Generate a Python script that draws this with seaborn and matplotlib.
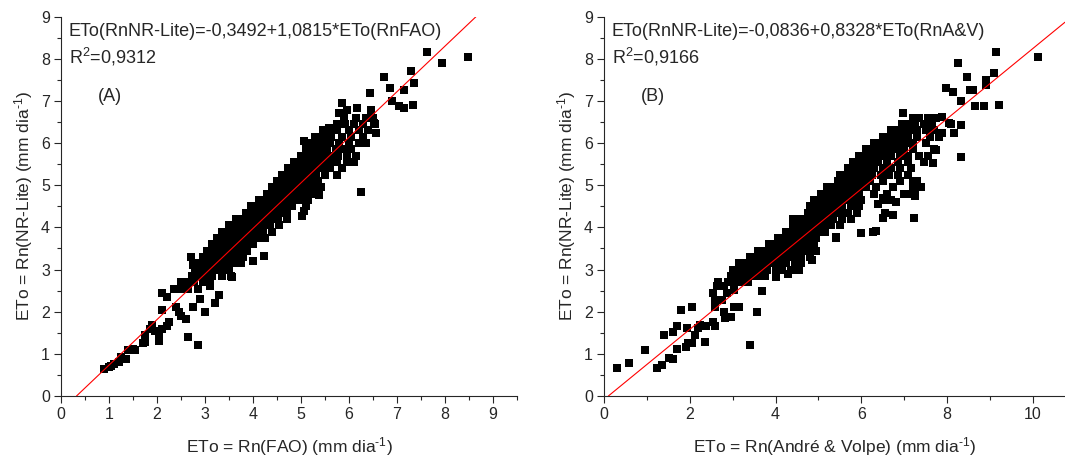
import matplotlib
matplotlib.use('Agg')
import matplotlib.pyplot as plt
from matplotlib.ticker import MultipleLocator
import seaborn as sns
import numpy as np

# --- dados (ETo em mm dia-1) ---

# painel (A): pontos isolados
fao_sparse_x = [0.9, 1.0, 1.05, 1.1, 1.2, 1.25, 1.35, 1.4, 1.5, 1.55, 1.7, 1.75, 1.75, 1.85, 1.9,
                1.95, 2.05, 2.05, 2.1, 2.2, 2.25, 2.1, 2.1, 2.2, 2.4, 2.45, 2.5, 2.6, 2.65, 2.85,
                2.75, 3.0, 3.2, 3.3, 2.9, 3.1, 2.7, 2.75, 4.0, 4.22, 3.56, 3.67, 5.03, 5.06, 5.37,
                5.41, 6.24, 5.86, 5.96, 6.17, 6.45, 5.79, 6.52, 6.56, 6.35, 5.06, 5.58, 6.73, 6.43,
                6.85, 6.9, 7.15, 7.04, 7.34, 7.15, 7.29, 7.36, 7.63, 7.93, 8.47]
fao_sparse_y = [0.65, 0.68, 0.72, 0.75, 0.8, 0.92, 0.87, 1.1, 1.12, 1.1, 1.25, 1.28, 1.45, 1.6, 1.68,
                1.55, 1.5, 1.3, 1.6, 1.65, 1.75, 2.05, 2.45, 2.35, 2.1, 2.0, 1.9, 1.82, 1.4, 1.2,
                2.1, 2.0, 2.2, 2.4, 2.3, 2.6, 3.3, 3.1, 3.2, 3.32, 2.83, 3.15, 4.26, 4.4, 4.77,
                4.97, 4.85, 6.95, 6.79, 6.83, 6.79, 6.71, 6.47, 6.23, 6.0, 6.04, 6.35, 7.58, 7.2,
                7.3, 7.0, 7.26, 6.87, 6.9, 6.83, 7.7, 7.42, 8.17, 7.91, 8.05]

# painel (A): faixa densa, linha a linha (y: lista de x)
fao_rows = {
    2.55: [2.35, 2.5, 2.65, 2.85],
    2.7: [2.5, 2.62, 2.78, 2.95, 3.1],
    2.85: [2.72, 2.88, 3.0, 3.15, 3.35, 3.55],
    3.0: [2.8, 2.95, 3.08, 3.22, 3.36, 3.5],
    3.15: [2.78, 2.92, 3.05, 3.2, 3.33, 3.48, 3.62, 3.75],
    3.3: [2.95, 3.1, 3.24, 3.38, 3.52, 3.66, 3.8],
    3.45: [3.05, 3.2, 3.33, 3.47, 3.6, 3.74, 3.88],
    3.6: [3.15, 3.3, 3.44, 3.58, 3.72, 3.86, 4.0],
    3.75: [3.25, 3.4, 3.54, 3.68, 3.82, 3.96, 4.1, 4.25],
    3.9: [3.35, 3.5, 3.64, 3.78, 3.92, 4.06, 4.2, 4.4],
    4.05: [3.5, 3.66, 3.8, 3.94, 4.08, 4.22, 4.36, 4.55],
    4.2: [3.65, 3.8, 3.95, 4.1, 4.24, 4.38, 4.52, 4.7],
    4.35: [3.85, 4.0, 4.14, 4.28, 4.42, 4.56, 4.7],
    4.5: [3.95, 4.1, 4.25, 4.39, 4.53, 4.67, 4.82, 5.1],
    4.65: [4.12, 4.27, 4.41, 4.55, 4.69, 4.83, 4.97, 5.15],
    4.8: [4.3, 4.44, 4.58, 4.72, 4.86, 5.0, 5.14, 5.3],
    4.95: [4.4, 4.55, 4.69, 4.83, 4.97, 5.11, 5.25, 5.4],
    5.1: [4.5, 4.65, 4.8, 4.94, 5.08, 5.22, 5.36],
    5.25: [4.6, 4.75, 4.9, 5.04, 5.18, 5.32, 5.5, 5.75],
    5.4: [4.72, 4.88, 5.02, 5.16, 5.3, 5.44, 5.6, 5.85],
    5.55: [4.85, 5.0, 5.15, 5.3, 5.45, 5.6, 5.75, 5.95, 6.1],
    5.7: [5.0, 5.16, 5.3, 5.45, 5.62, 5.78, 5.95, 6.15],
    5.85: [5.1, 5.25, 5.4, 5.55, 5.72, 5.9, 6.05],
    6.0: [5.15, 5.3, 5.45, 5.6, 5.8, 6.0, 6.2],
    6.15: [5.3, 5.45, 5.62, 5.85, 6.05, 6.3],
    6.3: [5.45, 5.6, 5.75, 6.0, 6.2, 6.4],
    6.45: [5.75, 5.92, 6.1, 6.3, 6.55],
    6.6: [5.9, 6.15, 6.35, 6.5],
}

# painel (B): pontos isolados
av_sparse_x = [0.3, 0.58, 0.96, 1.24, 1.34, 1.4, 1.52, 1.6, 1.6, 1.69, 1.69, 1.79, 1.9, 1.93, 1.96,
               2.05, 2.06, 2.11, 2.18, 2.23, 2.35, 2.38, 2.55, 2.59, 2.55, 2.59, 2.59, 2.63, 2.79,
               2.83, 2.95, 3.03, 3.15, 3.4, 3.57, 3.68, 3.03, 2.87, 2.79, 2.75, 4.0, 4.3, 4.55,
               4.86, 5.4, 6.0, 6.28, 6.35, 6.5, 6.55, 6.75, 7.22, 6.8, 6.4, 6.5, 7.1, 7.25, 7.4,
               7.2, 7.66, 7.74, 8.33, 8.17, 8.33, 8.25, 8.47, 7.97, 8.13, 8.53, 8.61, 8.33, 8.65,
               8.85, 8.9, 8.9, 9.13, 9.1, 9.21, 10.13, 8.05, 7.89, 7.89, 6.98]
av_sparse_y = [0.66, 0.78, 1.09, 0.66, 0.74, 1.45, 0.89, 0.87, 1.53, 1.65, 1.11, 2.04, 1.17, 1.61, 1.25,
               2.12, 1.25, 1.45, 1.61, 1.69, 1.29, 1.65, 1.76, 1.65, 2.44, 2.28, 2.12, 2.6, 2.0,
               1.84, 1.88, 2.12, 2.12, 1.21, 2.0, 2.48, 2.52, 2.44, 2.6, 2.28, 2.83, 2.9, 3.0,
               3.23, 3.78, 3.87, 3.9, 3.92, 4.22, 4.35, 4.3, 4.22, 4.6, 4.55, 4.7, 4.8, 4.75, 4.97,
               5.1, 5.52, 5.84, 5.68, 6.23, 6.43, 7.91, 7.58, 7.3, 7.22, 7.26, 7.26, 6.99, 6.87,
               6.88, 7.5, 7.38, 8.17, 7.66, 6.91, 8.05, 6.47, 6.63, 6.23, 6.71]

# painel (B): faixa densa, linha a linha (y: lista de x)
av_rows = {
    2.7: [2.65, 2.9, 3.05, 3.2, 3.35],
    2.85: [2.95, 3.1, 3.25, 3.4, 3.6, 3.75],
    3.0: [3.0, 3.15, 3.3, 3.45, 3.62, 3.8, 4.0, 4.15, 4.35],
    3.15: [3.15, 3.3, 3.5, 3.65, 3.8, 3.95, 4.1, 4.25, 4.45, 4.6],
    3.3: [3.4, 3.55, 3.7, 3.85, 4.0, 4.15, 4.3, 4.45, 4.6, 4.8],
    3.45: [3.6, 3.75, 3.9, 4.05, 4.2, 4.35, 4.5, 4.65, 4.8, 4.95],
    3.6: [3.85, 4.0, 4.15, 4.3, 4.45, 4.6, 4.75, 4.9],
    3.75: [4.05, 4.2, 4.35, 4.5, 4.65, 4.8, 4.95, 5.4],
    3.9: [4.25, 4.4, 4.55, 4.7, 4.85, 5.0, 5.15],
    4.05: [4.4, 4.55, 4.7, 4.85, 5.0, 5.15, 5.3, 5.5],
    4.2: [4.4, 4.6, 4.75, 4.9, 5.05, 5.2, 5.35, 5.55, 5.75],
    4.35: [4.75, 4.9, 5.05, 5.2, 5.35, 5.5, 5.7, 5.9],
    4.5: [4.8, 4.95, 5.1, 5.25, 5.4, 5.55, 5.75, 5.95],
    4.65: [4.9, 5.05, 5.2, 5.35, 5.5, 5.65, 5.8, 6.0, 6.5, 6.7],
    4.8: [5.05, 5.2, 5.35, 5.5, 5.65, 5.8, 5.95, 6.3, 6.6, 7.0, 7.25],
    4.95: [5.2, 5.35, 5.5, 5.65, 5.8, 5.95, 6.1, 6.35, 6.75, 7.2],
    5.1: [5.45, 5.6, 5.75, 5.9, 6.05, 6.2, 6.5, 6.9, 7.3],
    5.25: [5.5, 5.65, 5.8, 5.95, 6.1, 6.25, 6.45, 6.65, 6.85, 7.1],
    5.4: [5.7, 5.85, 6.0, 6.15, 6.3, 6.5, 6.7, 6.9, 7.15],
    5.55: [5.8, 5.95, 6.1, 6.25, 6.4, 6.6, 6.85, 7.1, 7.45],
    5.7: [5.95, 6.1, 6.25, 6.4, 6.55, 6.7, 6.9, 7.1, 7.35, 7.55],
    5.85: [6.1, 6.25, 6.4, 6.55, 6.7, 6.85, 7.0, 7.2, 7.7],
    6.0: [6.3, 6.45, 6.6, 6.75, 6.9, 7.05, 7.2, 7.5],
    6.15: [6.5, 6.65, 6.8, 6.95, 7.1, 7.3, 7.6, 7.8],
    6.3: [6.7, 6.85, 7.0, 7.15, 7.3, 7.5, 7.7],
    6.45: [6.95, 7.1, 7.25, 7.45, 7.65, 8.1],
    6.6: [7.2, 7.35, 7.55, 7.75],
}

# coeficientes das regressões
fao_intercept, fao_slope = -0.3492, 1.0815
av_intercept, av_slope = -0.0836, 0.8328

eq_fao = 'ETo(RnNR-Lite)=-0,3492+1,0815*ETo(RnFAO)'
eq_av = 'ETo(RnNR-Lite)=-0,0836+0,8328*ETo(RnA&V)'
r2_fao = 'R$^{2}$=0,9312'
r2_av = 'R$^{2}$=0,9166'
ylabel = 'ETo = Rn(NR-Lite) (mm dia$^{\\text{-}1}$)'
xlabel_fao = 'ETo = Rn(FAO) (mm dia$^{\\text{-}1}$)'
xlabel_av = 'ETo = Rn(André & Volpe) (mm dia$^{\\text{-}1}$)'


def juntar(sparse_x, sparse_y, rows):
    xs = list(sparse_x)
    ys = list(sparse_y)
    for yv, xlist in rows.items():
        xs += xlist
        ys += [yv] * len(xlist)
    return np.array(xs), np.array(ys)


sns.set_style('ticks')
plt.rcParams['font.family'] = ['Liberation Sans', 'DejaVu Sans']
plt.rcParams['mathtext.fontset'] = 'custom'
plt.rcParams['mathtext.rm'] = 'Liberation Sans'
plt.rcParams['mathtext.it'] = 'Liberation Sans:italic'

fig = plt.figure(figsize=(10.65, 4.57), dpi=100)
ax_a = fig.add_axes([0.0573, 0.1335, 0.4282, 0.830])
ax_b = fig.add_axes([0.5672, 0.1335, 0.4328, 0.830])

paineis = [
    (ax_a, juntar(fao_sparse_x, fao_sparse_y, fao_rows), fao_intercept, fao_slope,
     eq_fao, r2_fao, '(A)', xlabel_fao, 9.5, 1, 0.5),
    (ax_b, juntar(av_sparse_x, av_sparse_y, av_rows), av_intercept, av_slope,
     eq_av, r2_av, '(B)', xlabel_av, 10.75, 2, 1),
]

for ax, (xs, ys), b0, b1, eq, r2, tag, xlab, xmax, xmaj, xmin in paineis:
    sns.scatterplot(x=xs, y=ys, ax=ax, marker='s', color='black', s=26,
                    linewidth=0, zorder=2)
    ax.axline((0, b0), slope=b1, color='red', lw=0.8, zorder=3)
    ax.set_xlim(0, xmax)
    ax.set_ylim(0, 9)
    ax.xaxis.set_major_locator(MultipleLocator(xmaj))
    ax.xaxis.set_minor_locator(MultipleLocator(xmin))
    ax.yaxis.set_major_locator(MultipleLocator(1))
    ax.yaxis.set_minor_locator(MultipleLocator(0.5))
    ax.tick_params(which='major', direction='out', length=5, width=0.8, labelsize=11.5, pad=3)
    ax.tick_params(which='minor', direction='out', length=3, width=0.8)
    sns.despine(ax=ax)
    for sp in ['left', 'bottom']:
        ax.spines[sp].set_linewidth(0.8)
    ax.set_xlabel(xlab, fontsize=12.5, labelpad=9)
    ax.set_ylabel(ylabel, fontsize=12.5, labelpad=4)
    ax.text(0.017, 0.962, eq, transform=ax.transAxes, fontsize=13, va='center', ha='left')
    ax.text(0.017, 0.895, r2, transform=ax.transAxes, fontsize=13, va='center', ha='left')
    ax.text(0.08, 0.79, tag, transform=ax.transAxes, fontsize=13, va='center', ha='left')

fig.savefig('out.png', dpi=100)
plt.close(fig)
